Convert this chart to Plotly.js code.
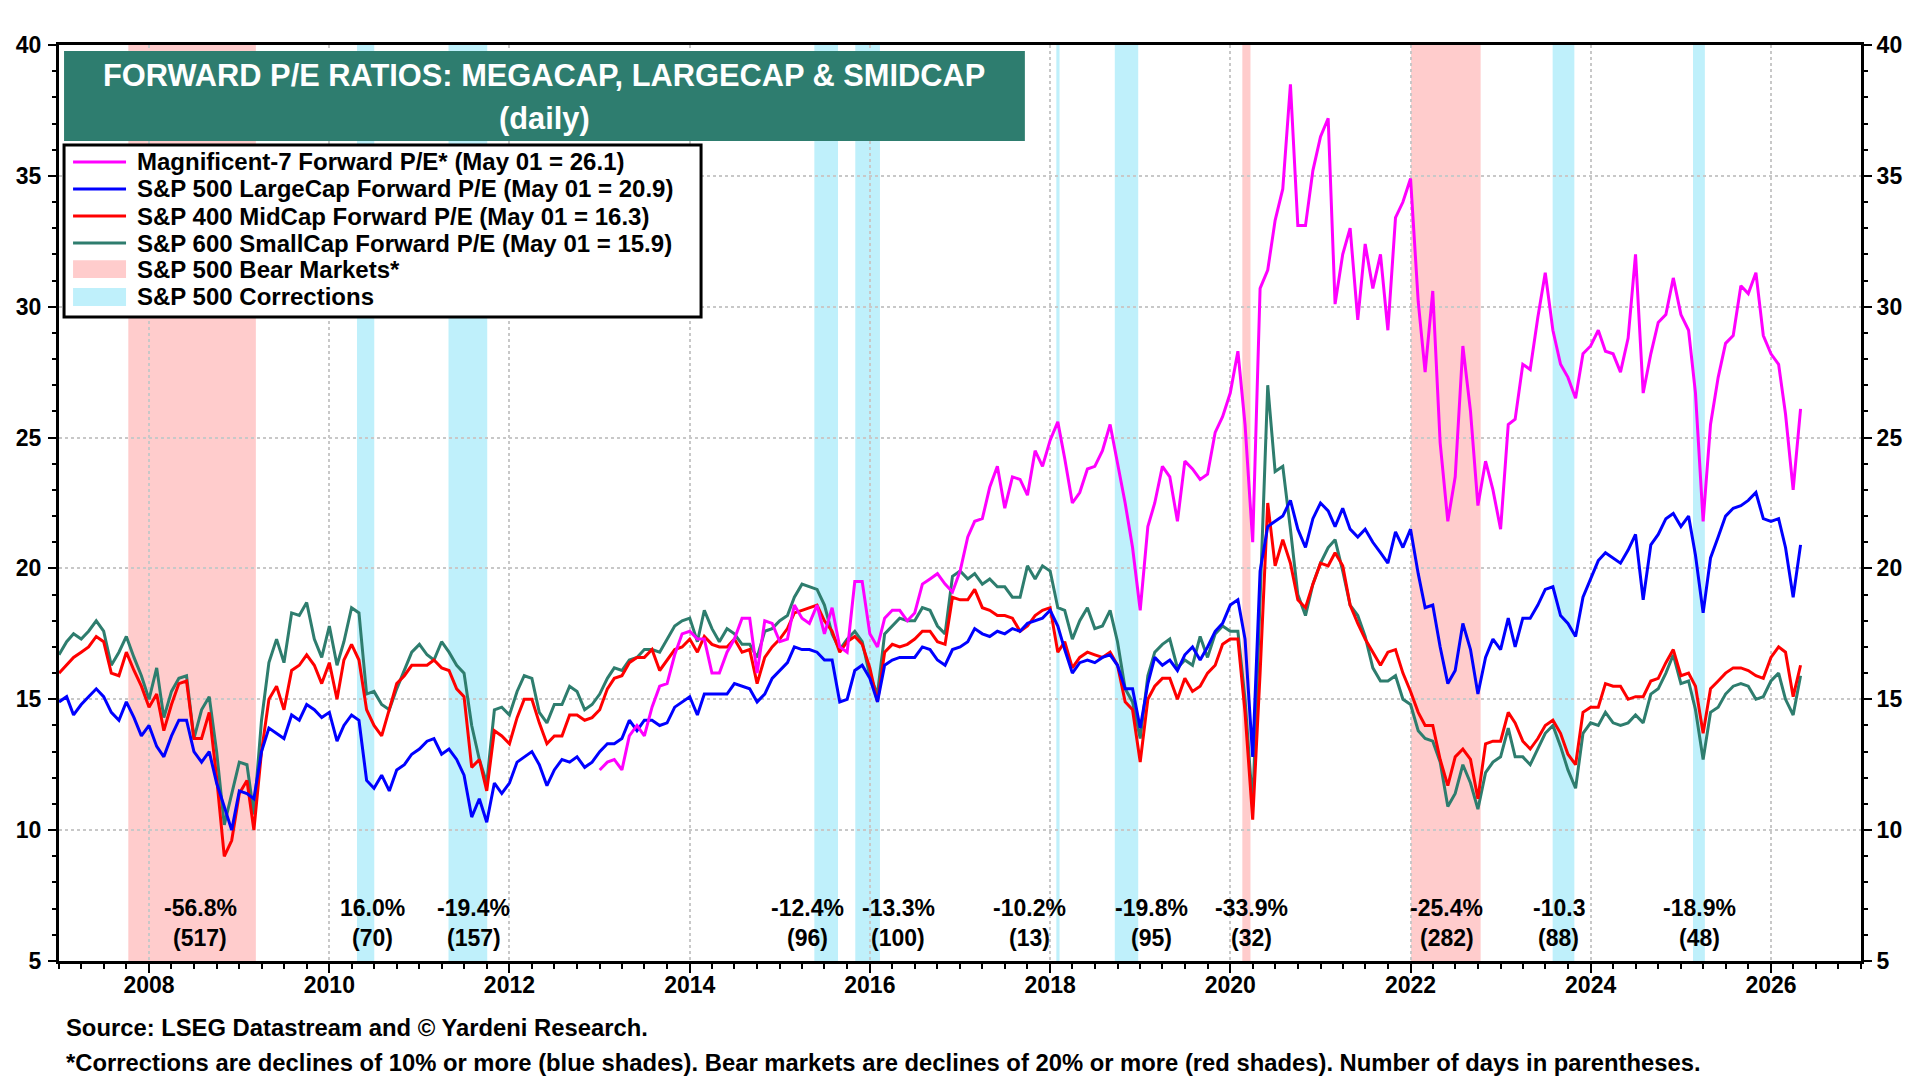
<!DOCTYPE html>
<html>
<head>
<meta charset="utf-8">
<script src="https://cdn.plot.ly/plotly-3.0.1.min.js"></script>
<style>
	html, body { margin: 0; padding: 0; background: #ffffff; }
	#forwardPE { width: 1920px; height: 1080px; }
</style>
</head>
<body>
<div id="forwardPE"></div>
<script>
// monthly readings, first of month, Jan 2007 .. May 2026
var firstMonth = '2007-01';
var monthCount = 233;

var smallCapPE = [
	16.7, 17.2, 17.5, 17.3, 17.6, 18.0, 17.6, 16.3, 16.8, 17.4, 16.6, 15.9,
	15.0, 16.2, 14.3, 15.3, 15.8, 15.9, 13.5, 14.6, 15.1, 13.0, 10.2, 11.4,
	12.6, 12.5, 10.6, 14.2, 16.4, 17.3, 16.4, 18.3, 18.2, 18.7, 17.3, 16.6,
	17.8, 16.3, 17.2, 18.5, 18.3, 15.2, 15.3, 14.8, 14.6, 15.4, 16.1, 16.8,
	17.1, 16.7, 16.5, 17.2, 16.8, 16.3, 16.0, 14.0, 12.7, 11.8, 14.6, 14.7,
	14.4, 15.3, 15.9, 15.8, 14.5, 14.1, 14.8, 14.8, 15.5, 15.3, 14.6, 14.8,
	15.2, 15.8, 16.2, 16.1, 16.5, 16.6, 16.9, 16.9, 16.8, 17.3, 17.8, 18.0,
	18.1, 17.2, 18.4, 17.7, 17.2, 17.7, 17.5, 17.1, 17.1, 16.6, 17.6, 17.7,
	18.0, 18.2, 18.9, 19.4, 19.3, 19.2, 18.6, 17.5, 16.9, 17.3, 17.6, 17.2,
	15.9, 15.2, 17.5, 17.8, 18.1, 18.0, 18.0, 18.5, 18.4, 17.8, 17.5, 19.7,
	19.9, 19.6, 19.8, 19.4, 19.6, 19.3, 19.3, 18.9, 18.9, 20.1, 19.6, 20.1,
	19.9, 18.5, 18.4, 17.3, 18.0, 18.5, 17.7, 17.8, 18.4, 17.2, 15.4, 14.9,
	13.5, 15.9, 16.8, 17.1, 17.3, 16.2, 16.5, 16.3, 17.4, 16.6, 17.5, 17.8,
	17.6, 17.6, 15.0, 10.9, 18.8, 27.0, 23.7, 23.9, 21.5, 19.0, 18.2, 19.4,
	20.2, 20.8, 21.1, 19.9, 18.6, 18.2, 17.4, 16.2, 15.7, 15.7, 15.9, 15.0,
	14.8, 13.8, 13.5, 13.4, 12.6, 10.9, 11.4, 12.5, 11.8, 10.8, 12.2, 12.6,
	12.8, 13.9, 12.8, 12.8, 12.5, 13.1, 13.7, 14.0, 13.2, 12.3, 11.6, 13.7,
	14.1, 14.0, 14.5, 14.1, 14.0, 14.1, 14.4, 14.1, 15.2, 15.4, 16.0, 16.7,
	15.6, 15.7, 14.6, 12.7, 14.5, 14.7, 15.2, 15.5, 15.6, 15.5, 15.0, 15.1,
	15.7, 16.0, 15.0, 14.4, 15.9
];

var midCapPE = [
	16.0, 16.3, 16.6, 16.8, 17.0, 17.4, 17.2, 16.0, 15.9, 16.8, 16.1, 15.5,
	14.7, 15.2, 13.8, 14.8, 15.6, 15.7, 13.5, 13.5, 14.5, 12.0, 9.0, 9.6,
	11.4, 11.9, 10.0, 13.0, 15.0, 15.5, 14.6, 16.1, 16.3, 16.7, 16.3, 15.6,
	16.4, 15.0, 16.5, 17.1, 16.5, 14.6, 14.0, 13.6, 14.6, 15.6, 15.9, 16.3,
	16.3, 16.3, 16.5, 16.2, 16.1, 15.4, 15.1, 12.4, 12.7, 11.5, 13.8, 13.6,
	13.3, 14.3, 15.0, 15.0, 14.1, 13.3, 13.6, 13.6, 14.4, 14.4, 14.2, 14.3,
	14.6, 15.4, 15.8, 15.9, 16.4, 16.6, 16.6, 16.9, 16.1, 16.5, 16.9, 17.0,
	17.3, 16.8, 17.4, 17.1, 17.0, 17.0, 17.3, 16.8, 16.9, 15.6, 16.6, 17.0,
	17.3, 17.7, 18.3, 18.4, 18.5, 18.6, 18.0, 17.6, 16.8, 17.2, 17.4, 17.1,
	16.2, 14.9, 16.8, 17.1, 17.0, 17.1, 17.3, 17.6, 17.6, 17.2, 17.1, 18.9,
	18.8, 18.8, 19.2, 18.5, 18.4, 18.2, 18.2, 18.1, 17.6, 17.8, 18.2, 18.4,
	18.5, 16.8, 17.2, 16.2, 16.6, 16.8, 16.7, 16.6, 16.8, 16.3, 14.9, 14.6,
	12.6, 15.0, 15.5, 15.8, 15.8, 15.0, 15.8, 15.3, 15.5, 16.0, 16.3, 17.1,
	17.3, 17.3, 14.5, 10.4, 16.0, 22.5, 20.1, 21.1, 20.2, 18.8, 18.5, 19.4,
	20.2, 20.1, 20.6, 20.1, 18.6, 17.9, 17.3, 16.8, 16.3, 16.8, 16.9, 16.0,
	15.3, 14.5, 14.0, 14.0, 12.7, 11.7, 12.8, 13.1, 12.7, 11.2, 13.3, 13.4,
	13.4, 14.5, 14.1, 13.4, 13.1, 13.5, 14.0, 14.2, 13.7, 12.9, 12.5, 14.5,
	14.7, 14.7, 15.6, 15.5, 15.5, 15.0, 15.1, 15.1, 15.7, 15.8, 16.4, 16.9,
	15.9, 16.0, 15.5, 13.7, 15.4, 15.7, 16.0, 16.2, 16.2, 16.1, 15.9, 15.8,
	16.6, 17.0, 16.8, 15.1, 16.3
];

var largeCapPE = [
	14.9, 15.1, 14.4, 14.8, 15.1, 15.4, 15.1, 14.5, 14.2, 14.9, 14.3, 13.6,
	14.0, 13.2, 12.8, 13.6, 14.2, 14.2, 13.0, 12.6, 13.0, 11.8, 10.9, 10.0,
	11.5, 11.4, 11.2, 13.0, 13.9, 13.7, 13.5, 14.4, 14.2, 14.8, 14.6, 14.3,
	14.5, 13.4, 14.0, 14.4, 14.2, 11.9, 11.6, 12.1, 11.5, 12.3, 12.5, 12.9,
	13.1, 13.4, 13.5, 12.9, 13.1, 12.7, 12.1, 10.5, 11.2, 10.3, 11.8, 11.4,
	11.8, 12.6, 12.8, 13.0, 12.5, 11.7, 12.3, 12.7, 12.6, 12.8, 12.4, 12.6,
	13.0, 13.3, 13.3, 13.5, 14.2, 13.8, 14.2, 14.2, 14.0, 14.1, 14.7, 14.9,
	15.1, 14.4, 15.2, 15.2, 15.2, 15.2, 15.6, 15.5, 15.4, 14.9, 15.2, 15.8,
	16.1, 16.4, 17.0, 16.9, 16.9, 16.8, 16.5, 16.5, 14.9, 15.0, 16.1, 16.3,
	15.8, 14.9, 16.3, 16.5, 16.6, 16.6, 16.6, 17.0, 16.9, 16.5, 16.3, 16.9,
	17.0, 17.2, 17.7, 17.5, 17.4, 17.6, 17.5, 17.7, 17.6, 17.9, 18.0, 18.1,
	18.4, 17.8, 16.9, 16.0, 16.4, 16.5, 16.4, 16.6, 16.7, 16.3, 15.4, 15.4,
	13.9, 15.6, 16.6, 16.3, 16.5, 16.1, 16.7, 17.0, 16.5, 17.0, 17.6, 17.9,
	18.6, 18.8, 17.3, 12.8, 19.9, 21.6, 21.8, 22.0, 22.6, 21.5, 20.8, 21.9,
	22.5, 22.2, 21.6, 22.3, 21.5, 21.2, 21.5, 21.0, 20.6, 20.2, 21.4, 20.8,
	21.5, 19.8, 18.5, 18.6, 17.0, 15.6, 16.1, 17.9, 16.9, 15.2, 16.6, 17.3,
	16.9, 18.1, 17.0, 18.1, 18.1, 18.6, 19.2, 19.3, 18.2, 17.9, 17.4, 18.9,
	19.6, 20.3, 20.6, 20.4, 20.2, 20.7, 21.3, 18.8, 20.9, 21.3, 21.9, 22.1,
	21.6, 22.0, 20.5, 18.3, 20.4, 21.2, 22.0, 22.3, 22.4, 22.6, 22.9, 21.9,
	21.8, 21.9, 20.8, 18.9, 20.9
];

// Magnificent-7 series starts Jan 2013
var mag7FirstMonth = '2013-01';
var mag7PE = [
	12.3, 12.6, 12.7, 12.3, 13.6, 14.0, 13.6, 14.7, 15.5, 15.6, 16.7, 17.5,
	17.6, 17.3, 17.3, 16.0, 16.0, 16.8, 17.3, 18.1, 18.1, 16.0, 18.0, 17.9,
	17.2, 17.3, 18.6, 18.1, 17.9, 18.6, 17.5, 18.5, 17.0, 16.8, 19.5, 19.5,
	17.5, 17.0, 18.1, 18.4, 18.4, 18.0, 18.3, 19.4, 19.6, 19.8, 19.4, 19.1,
	19.9, 21.2, 21.8, 21.9, 23.1, 23.9, 22.3, 23.5, 23.4, 22.8, 24.5, 23.9,
	24.9, 25.6, 24.2, 22.5, 22.9, 23.8, 23.9, 24.5, 25.5, 24.0, 22.5, 20.8,
	18.4, 21.6, 22.5, 23.9, 23.5, 21.8, 24.1, 23.8, 23.4, 23.6, 25.2, 25.8,
	26.7, 28.3, 25.5, 21.0, 30.7, 31.4, 33.3, 34.5, 38.5, 33.1, 33.1, 35.2,
	36.5, 37.2, 30.1, 32.0, 33.0, 29.5, 32.4, 30.7, 32.0, 29.1, 33.4, 34.0,
	34.9, 30.2, 27.5, 30.6, 24.8, 21.8, 23.5, 28.5, 26.0, 22.4, 24.1, 23.0,
	21.5, 25.5, 25.7, 27.8, 27.6, 29.6, 31.3, 29.1, 27.8, 27.3, 26.5, 28.2,
	28.5, 29.1, 28.3, 28.2, 27.5, 28.8, 32.0, 26.7, 28.2, 29.4, 29.7, 31.1,
	29.7, 29.1, 26.7, 21.8, 25.5, 27.3, 28.6, 28.9, 30.8, 30.5, 31.3, 28.9,
	28.2, 27.8, 25.9, 23.0, 26.1
];

var seriesNames = [
	'Magnificent-7 Forward P/E* (May 01 = 26.1)',
	'S&P 500 LargeCap Forward P/E (May 01 = 20.9)',
	'S&P 400 MidCap Forward P/E (May 01 = 16.3)',
	'S&P 600 SmallCap Forward P/E (May 01 = 15.9)'
];
var bandNames = ['S&P 500 Bear Markets*', 'S&P 500 Corrections'];

var bearStart = ['2007-10-09', '2020-02-19', '2022-01-03'];
var bearEnd = ['2009-03-09', '2020-03-23', '2022-10-12'];
var corrStart = ['2010-04-23', '2011-04-29', '2015-05-21', '2015-11-03', '2018-01-26', '2018-09-20', '2023-07-31', '2025-02-19'];
var corrEnd = ['2010-07-02', '2011-10-03', '2015-08-25', '2016-02-11', '2018-02-08', '2018-12-24', '2023-10-27', '2025-04-08'];

var dropText = ['-56.8%', '16.0%', '-19.4%', '-12.4%', '-13.3%', '-10.2%', '-19.8%', '-33.9%', '-25.4%', '-10.3', '-18.9%'];
var dayText = ['(517)', '(70)', '(157)', '(96)', '(100)', '(13)', '(95)', '(32)', '(282)', '(88)', '(48)'];
var dropTextAt = ['2008-07-26', '2010-06-24', '2011-08-10', '2015-04-22', '2016-04-25', '2017-10-10', '2019-02-16', '2020-03-26', '2022-05-28', '2023-08-25', '2025-03-18'];

class ForwardPEChart
{
	constructor(divId)
	{
		this.divId = divId;
		this.font = 'Liberation Sans, Arial, Helvetica, sans-serif';
		this.colors = {mag7: '#ff00ff', large: '#0000ff', mid: '#ff0000', small: '#2e7d6e', bear: '#ffcccc', corr: '#bff0fb'};
	}

	monthList(first, count)
	{
		var parts = first.split('-');
		var y = parseInt(parts[0]);
		var m = parseInt(parts[1]);
		var out = [];
		for (var i = 0; i < count; i++)
		{
			out.push(y + '-' + (m < 10 ? '0' + m : m) + '-01');
			m++;
			if (m > 12) { m = 1; y++; }
		}
		return out;
	}

	bandShapes(starts, ends, color)
	{
		var shapes = [];
		for (var i = 0; i < starts.length; i++)
		{
			shapes.push({
				type: 'rect', xref: 'x', yref: 'paper',
				x0: starts[i], x1: ends[i], y0: 0, y1: 1,
				fillcolor: color, line: {width: 0}, layer: 'below'
			});
		}
		return shapes;
	}

	// boxed legend in the upper left, drawn with paper-referenced shapes and text
	legendParts(shapes, annotations)
	{
		var left = 0.0028, right = 0.3563, top = 0.8908, bottom = 0.7031;
		var symX0 = 0.0078, symX1 = 0.0372, textX = 0.0422;
		var rowY = [0.8723, 0.8428, 0.8133, 0.7838, 0.7553, 0.7249];
		var lineColors = [this.colors.mag7, this.colors.large, this.colors.mid, this.colors.small];
		var fillColors = [this.colors.bear, this.colors.corr];

		shapes.push({type: 'rect', xref: 'paper', yref: 'paper', x0: left, x1: right, y0: bottom, y1: top,
			fillcolor: '#ffffff', line: {color: '#000000', width: 3}, layer: 'above'});

		var names = seriesNames.concat(bandNames);
		for (var i = 0; i < names.length; i++)
		{
			if (i < lineColors.length)
			{
				shapes.push({type: 'line', xref: 'paper', yref: 'paper', x0: symX0, x1: symX1, y0: rowY[i], y1: rowY[i],
					line: {color: lineColors[i], width: 3}, layer: 'above'});
			}
			else
			{
				shapes.push({type: 'rect', xref: 'paper', yref: 'paper', x0: symX0, x1: symX1,
					y0: rowY[i] - 0.0098, y1: rowY[i] + 0.0098,
					fillcolor: fillColors[i - lineColors.length], line: {width: 0}, layer: 'above'});
			}
			annotations.push({text: names[i], xref: 'paper', yref: 'paper', x: textX, y: rowY[i],
				xanchor: 'left', yanchor: 'middle', showarrow: false,
				font: {family: this.font, size: 24, color: '#000000', weight: 'bold'}});
		}
	}

	draw()
	{
		var months = this.monthList(firstMonth, monthCount);
		var mag7Months = this.monthList(mag7FirstMonth, mag7PE.length);

		var smallCap = {x: months, y: smallCapPE, type: 'scatter', mode: 'lines', name: seriesNames[3],
			line: {color: this.colors.small, width: 3}};
		var midCap = {x: months, y: midCapPE, type: 'scatter', mode: 'lines', name: seriesNames[2],
			line: {color: this.colors.mid, width: 3}};
		var largeCap = {x: months, y: largeCapPE, type: 'scatter', mode: 'lines', name: seriesNames[1],
			line: {color: this.colors.large, width: 3}};
		var mag7 = {x: mag7Months, y: mag7PE, type: 'scatter', mode: 'lines', name: seriesNames[0],
			line: {color: this.colors.mag7, width: 3}, yaxis: 'y2'};

		var data = [smallCap, midCap, largeCap, mag7];

		var noteFont = {family: this.font, size: 23.8, color: '#000000', weight: 'bold'};
		var labelFont = {family: this.font, size: 23, color: '#000000', weight: 'bold'};
		var tickFont = {family: this.font, size: 23, color: '#000000', weight: 'bold'};
		var titleFont = {family: this.font, size: 30.8, color: '#ffffff', weight: 'bold'};

		var shapes = []
			.concat(this.bandShapes(bearStart, bearEnd, this.colors.bear))
			.concat(this.bandShapes(corrStart, corrEnd, this.colors.corr));

		// title banner
		shapes.push({
			type: 'rect', xref: 'paper', yref: 'paper',
			x0: 0.0028, x1: 0.536, y0: 0.8952, y1: 0.9935,
			fillcolor: '#2e7d6f', line: {width: 0}, layer: 'above'
		});

		var annotations = [
			{text: 'FORWARD P/E RATIOS: MEGACAP, LARGECAP & SMIDCAP', xref: 'paper', yref: 'paper',
				x: 0.2694, y: 0.9672, xanchor: 'center', yanchor: 'middle', showarrow: false, font: titleFont},
			{text: '(daily)', xref: 'paper', yref: 'paper',
				x: 0.2694, y: 0.9203, xanchor: 'center', yanchor: 'middle', showarrow: false, font: titleFont},
			{text: 'Source: LSEG Datastream and © Yardeni Research.', xref: 'paper', yref: 'paper',
				x: 0.0028, y: -0.0731, xanchor: 'left', yanchor: 'middle', showarrow: false, font: noteFont},
			{text: '*Corrections are declines of 10% or more (blue shades). Bear markets are declines of 20% or more (red shades). Number of days in parentheses.',
				xref: 'paper', yref: 'paper',
				x: 0.0028, y: -0.1103, xanchor: 'left', yanchor: 'middle', showarrow: false, font: noteFont}
		];

		for (var i = 0; i < dropText.length; i++)
		{
			annotations.push({text: dropText[i], xref: 'x', yref: 'paper', x: dropTextAt[i], y: 0.0579,
				xanchor: 'center', yanchor: 'middle', showarrow: false, font: labelFont});
			annotations.push({text: dayText[i], xref: 'x', yref: 'paper', x: dropTextAt[i], y: 0.0251,
				xanchor: 'center', yanchor: 'middle', showarrow: false, font: labelFont});
		}

		this.legendParts(shapes, annotations);

		var yAxisBase = {
			range: [5, 40], dtick: 5, tick0: 5,
			ticks: 'outside', ticklen: 8, tickwidth: 2, tickcolor: '#000000',
			showline: true, linewidth: 3, linecolor: '#000000',
			tickfont: tickFont, zeroline: false, fixedrange: true,
			minor: {dtick: 1, ticks: 'outside', ticklen: 4, tickwidth: 2, tickcolor: '#000000', showgrid: false}
		};

		var yaxis = Object.assign({}, yAxisBase, {
			showgrid: true, gridcolor: '#c8c8c8', griddash: 'dot', gridwidth: 2,
			ticklabelstandoff: 2
		});
		var yaxis2 = Object.assign({}, yAxisBase, {
			overlaying: 'y', side: 'right', showgrid: false
		});

		var layout = {
			width: 1920, height: 1080,
			margin: {l: 59, r: 59, t: 45, b: 119, pad: 0},
			paper_bgcolor: '#ffffff',
			plot_bgcolor: 'rgba(0,0,0,0)',
			font: {family: this.font, size: 22, color: '#000000', weight: 'bold'},
			showlegend: false,
			xaxis: {
				type: 'date', range: ['2007-01-01', '2027-01-01'],
				tick0: '2008-01-01', dtick: 'M24', tickformat: '%Y',
				ticks: 'outside', ticklen: 9, tickwidth: 2, tickcolor: '#000000',
				showline: true, linewidth: 3, linecolor: '#000000', mirror: true,
				showgrid: true, gridcolor: '#c8c8c8', griddash: 'dot', gridwidth: 2,
				tickfont: tickFont, zeroline: false, fixedrange: true, ticklabelstandoff: -8,
				minor: {dtick: 'M3', tick0: '2007-01-01', ticks: 'outside', ticklen: 5, tickwidth: 2, tickcolor: '#000000', showgrid: false}
			},
			yaxis: yaxis,
			yaxis2: yaxis2,
			shapes: shapes,
			annotations: annotations
		};

		Plotly.newPlot(this.divId, data, layout, {staticPlot: true});
	}
}

new ForwardPEChart('forwardPE').draw();
</script>
</body>
</html>
